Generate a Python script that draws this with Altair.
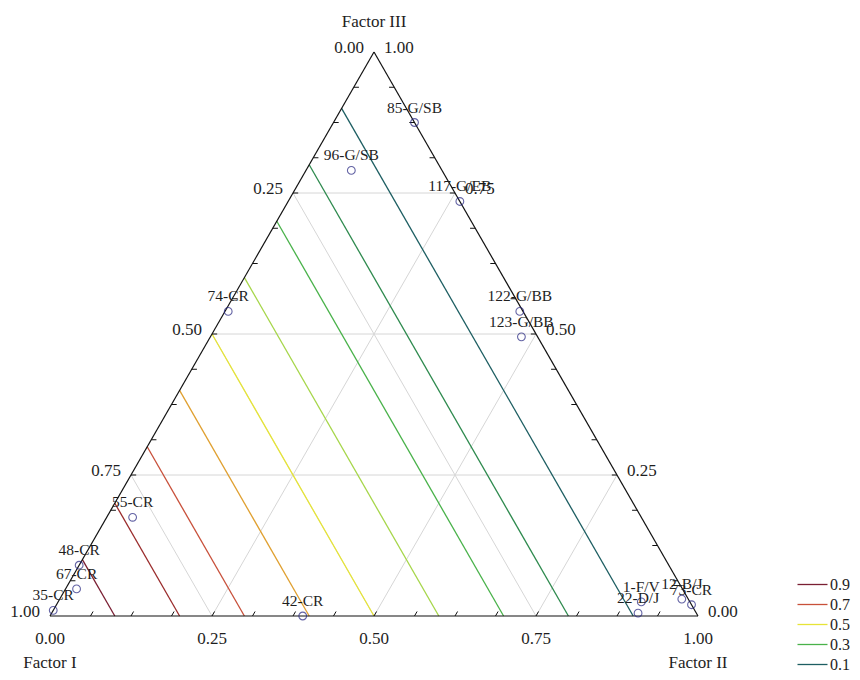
import altair as alt
import pandas as pd

# ---------------- data ----------------
point_names = ["85-G/SB", "96-G/SB", "117-G/EB", "74-CR", "122-G/BB", "123-G/BB",
               "55-CR", "48-CR", "67-CR", "35-CR", "42-CR", "1-F/V", "22-D/J",
               "12-B/J", "73-CR"]
factor_1 = [0.00, 0.14, 0.00, 0.455, 0.005, 0.025, 0.785, 0.91, 0.935, 0.99, 0.61, 0.075, 0.09, 0.01, 0.00]
factor_2 = [0.125, 0.07, 0.265, 0.005, 0.455, 0.48, 0.04, 0.00, 0.017, 0.00, 0.39, 0.90, 0.905, 0.96, 0.98]
factor_3 = [0.875, 0.79, 0.735, 0.54, 0.54, 0.495, 0.175, 0.09, 0.048, 0.01, 0.00, 0.025, 0.005, 0.03, 0.02]

contour_levels = ["0.9", "0.8", "0.7", "0.6", "0.5", "0.4", "0.3", "0.2", "0.1"]
contour_values = [0.9, 0.8, 0.7, 0.6, 0.5, 0.4, 0.3, 0.2, 0.1]
contour_colors = ["#7a1f33", "#9a2c2c", "#c8503a", "#e0a030", "#e6e437",
                  "#a6d64a", "#49b24a", "#2e8a4e", "#1d5e62"]
legend_levels = ["0.9", "0.7", "0.5", "0.3", "0.1"]

grid_levels = [0.25, 0.50, 0.75]
tick_values = [0.0, 0.25, 0.50, 0.75, 1.0]
bottom_labels = ["0.00", "0.25", "0.50", "0.75", "1.00"]   # Factor II
left_labels = ["1.00", "0.75", "0.50", "0.25", "0.00"]     # Factor I (bottom -> top)
right_labels = ["0.00", "0.25", "0.50", "0.75", "1.00"]    # Factor III (bottom -> top)
minor_ticks = [k / 16 for k in range(1, 16)]
axis_titles = ["Factor I", "Factor II", "Factor III"]

# ---------------- geometry helpers ----------------
W, H = 844, 664
XMIN = -42 / 648
XMAX = XMIN + W / 648
YMAX = 608 / 564
YMIN = YMAX - H / 564

def cx(b, c):
    return b + c / 2

xs = alt.Scale(domain=[XMIN, XMAX], nice=False, zero=False)
ys = alt.Scale(domain=[YMIN, YMAX], nice=False, zero=False)

def X(f):
    return alt.X(f + ":Q", scale=xs, axis=None)

def Y(f):
    return alt.Y(f + ":Q", scale=ys, axis=None)

def seg_rows(levels):
    rows = []
    for g in levels:
        rows.append(dict(x=cx(0, g), y=g, x2=cx(1 - g, g), y2=g))          # c = g
        rows.append(dict(x=cx(g, 0), y=0, x2=cx(g, 1 - g), y2=1 - g))      # b = g
        rows.append(dict(x=cx(1 - g, 0), y=0, x2=cx(0, 1 - g), y2=1 - g))  # a = g
    return rows

grid_df = pd.DataFrame(seg_rows(grid_levels))
edge_df = pd.DataFrame(seg_rows([0.0]))

contour_df = pd.DataFrame([
    dict(level=lab, x=cx(1 - v, 0), y=0, x2=cx(0, 1 - v), y2=1 - v)
    for lab, v in zip(contour_levels, contour_values)
])

d = 0.008
tick_rows = []
for t in minor_ticks:
    tick_rows.append(dict(x=cx(t, 0), y=0, x2=cx(t, d), y2=d))             # bottom
    tick_rows.append(dict(x=cx(0, t), y=t, x2=cx(d, t), y2=t))              # left
    tick_rows.append(dict(x=cx(1 - t, t), y=t, x2=cx(1 - t - d, t), y2=t))  # right
tick_df = pd.DataFrame(tick_rows)

pts_df = pd.DataFrame(dict(name=point_names, a=factor_1, b=factor_2, c=factor_3))
pts_df["x"] = pts_df["b"] + pts_df["c"] / 2
pts_df["y"] = pts_df["c"]

bottom_df = pd.DataFrame(dict(x=[cx(t, 0) for t in tick_values], y=[0.0] * 5, label=bottom_labels))
left_df = pd.DataFrame(dict(x=[cx(0, t) for t in tick_values], y=tick_values, label=left_labels))
right_df = pd.DataFrame(dict(x=[cx(1 - t, t) for t in tick_values], y=tick_values, label=right_labels))
title_df = pd.DataFrame(dict(x=[cx(0, 0), cx(1, 0), cx(0, 1)], y=[0.0, 0.0, 1.0], label=axis_titles))

FONT = "Liberation Serif"
TXT = "#1e1e1e"

# ---------------- layers ----------------
grid = alt.Chart(grid_df).mark_rule(color="#d6d6d6", strokeWidth=1).encode(
    x=X("x"), y=Y("y"), x2="x2:Q", y2="y2:Q")

contours = alt.Chart(contour_df).mark_rule(strokeWidth=1.3).encode(
    x=X("x"), y=Y("y"), x2="x2:Q", y2="y2:Q",
    color=alt.Color("level:N",
                    scale=alt.Scale(domain=contour_levels, range=contour_colors),
                    legend=alt.Legend(values=legend_levels, title=None, orient="none",
                                      direction="vertical", legendX=796, legendY=568,
                                      symbolType="M-2,0H2", symbolSize=225,
                                      symbolStrokeWidth=1.3, labelFont=FONT,
                                      labelFontSize=16, labelColor=TXT,
                                      labelOffset=9, rowPadding=3, padding=0)))

edges = alt.Chart(edge_df).mark_rule(color="#111111", strokeWidth=1.2).encode(
    x=X("x"), y=Y("y"), x2="x2:Q", y2="y2:Q")

ticks = alt.Chart(tick_df).mark_rule(color="#111111", strokeWidth=1).encode(
    x=X("x"), y=Y("y"), x2="x2:Q", y2="y2:Q")

points = alt.Chart(pts_df).mark_point(shape="circle", filled=False, size=60,
                                      color="#23237f", strokeWidth=1.1).encode(
    x=X("x"), y=Y("y"))

point_labels = alt.Chart(pts_df).mark_text(font=FONT, fontSize=15.5, color=TXT,
                                           align="center", baseline="middle", dy=-15).encode(
    x=X("x"), y=Y("y"), text="name:N")

bottom_txt = alt.Chart(bottom_df).mark_text(font=FONT, fontSize=17, color=TXT,
                                            align="center", baseline="middle", dy=23).encode(
    x=X("x"), y=Y("y"), text="label:N")
left_txt = alt.Chart(left_df).mark_text(font=FONT, fontSize=17, color=TXT,
                                        align="right", baseline="middle", dx=-10, dy=-4).encode(
    x=X("x"), y=Y("y"), text="label:N")
right_txt = alt.Chart(right_df).mark_text(font=FONT, fontSize=17, color=TXT,
                                          align="left", baseline="middle", dx=10, dy=-4).encode(
    x=X("x"), y=Y("y"), text="label:N")

titles_bottom = alt.Chart(title_df.iloc[:2]).mark_text(font=FONT, fontSize=17, color=TXT,
                                                       align="center", baseline="middle", dy=47).encode(
    x=X("x"), y=Y("y"), text="label:N")
title_top = alt.Chart(title_df.iloc[2:]).mark_text(font=FONT, fontSize=17, color=TXT,
                                                   align="center", baseline="middle", dy=-30).encode(
    x=X("x"), y=Y("y"), text="label:N")

chart = alt.layer(grid, contours, edges, ticks, points, point_labels,
                  bottom_txt, left_txt, right_txt, titles_bottom, title_top).properties(
    width=W, height=H, padding=0,
    autosize=alt.AutoSizeParams(type="none"),
    background="white",
).configure_view(strokeWidth=0)

chart.save("out.html", embed_options={"renderer": "svg", "actions": False})
